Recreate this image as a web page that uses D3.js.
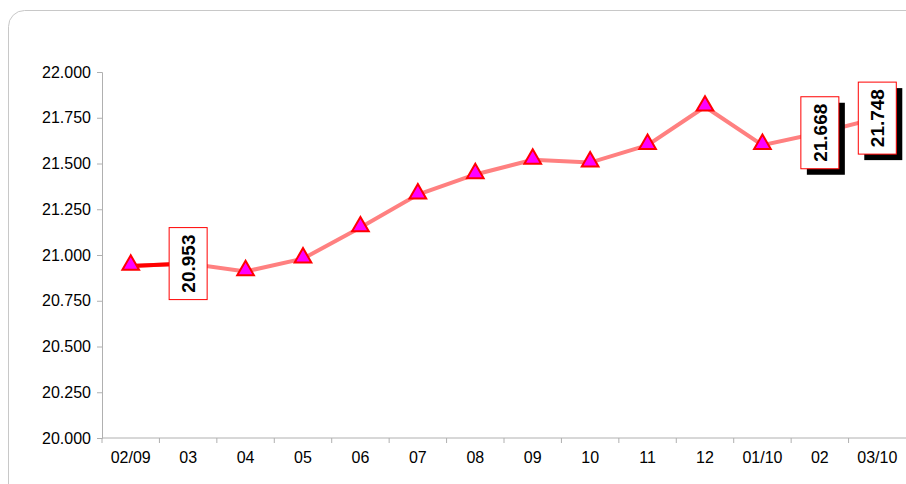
<!DOCTYPE html>
<html lang="en">
<head>
<meta charset="utf-8">
<script src="https://cdn.jsdelivr.net/npm/d3@7"></script>
<style>body{margin:0;background:#fff}</style>
</head>
<body>
<script>
var w = 906, h = 484;
var categories = ["02/09","03","04","05","06","07","08","09","10","11","12","01/10","02","03/10"];
var values = [20.94, 20.953, 20.91, 20.98, 21.15, 21.33, 21.44, 21.52, 21.505, 21.60, 21.81, 21.60, 21.668, 21.748];
var labelIdx = [1, 12, 13];
var markerIdx = [0,1,2,3,4,5,6,7,8,9,10,11];
var yTicks = [20, 20.25, 20.5, 20.75, 21, 21.25, 21.5, 21.75, 22];

var svg = d3.select("body").append("svg").attr("width", w).attr("height", h);

svg.append("rect").attr("x", 8.5).attr("y", 10.5).attr("width", 940).attr("height", 520)
   .attr("rx", 16).attr("fill", "#fff").attr("stroke", "#c8c8c8");

var x = d3.scaleBand().domain(categories).range([102, 906]);
var y = d3.scaleLinear().domain([20, 22]).range([438, 72]);

var yAxis = svg.append("g").attr("transform", "translate(102,0)")
   .call(d3.axisLeft(y).tickValues(yTicks).tickSize(5).tickPadding(6).tickFormat(d3.format(".3f")));
var xAxis = svg.append("g").attr("transform", "translate(0,438)")
   .call(d3.axisBottom(x).tickSize(0).tickPadding(14));
[yAxis, xAxis].forEach(function(g) {
  g.selectAll("path,line").attr("stroke", "#b0b0b0");
  g.selectAll("text").attr("font-family", "Liberation Sans, Arial, sans-serif")
   .attr("font-size", "16px").attr("fill", "#000");
});
xAxis.select(".domain").attr("d", "M102,0H906");
xAxis.selectAll(".sep").data(categories).enter().append("line")
   .attr("x1", function(d){ return x(d); }).attr("x2", function(d){ return x(d); })
   .attr("y1", 0).attr("y2", 5).attr("stroke", "#b0b0b0");

var line = d3.line().x(function(d, i){ return x(categories[i]) + x.bandwidth()/2; })
   .y(function(d){ return y(d); });
svg.append("path").datum(values).attr("d", line).attr("fill", "none")
   .attr("stroke", "#ff8080").attr("stroke-width", 4);
svg.append("path").datum(values.slice(0, 2)).attr("d", line).attr("fill", "none")
   .attr("stroke", "#ff0000").attr("stroke-width", 4);

var tri = d3.symbol().type(d3.symbolTriangle).size(120);
svg.selectAll(".mk").data(markerIdx).enter().append("path")
   .attr("d", tri)
   .attr("transform", function(i){ return "translate(" + (x(categories[i]) + x.bandwidth()/2) + "," + (y(values[i]) - 1) + ")"; })
   .attr("fill", "#ff00ff").attr("stroke", "#ff0000").attr("stroke-width", 2);

var bw = 38, bh = 72;
labelIdx.forEach(function(i) {
  var cx = x(categories[i]) + x.bandwidth()/2, cy = y(values[i]);
  var g = svg.append("g").attr("transform", "translate(" + cx + "," + cy + ")");
  if (i !== 1) {
    g.append("rect").attr("x", -bw/2 + 6).attr("y", -bh/2 + 6).attr("width", bw).attr("height", bh).attr("fill", "#000");
  }
  g.append("rect").attr("x", -bw/2).attr("y", -bh/2).attr("width", bw).attr("height", bh)
   .attr("fill", "#fff").attr("stroke", "#ff0000").attr("stroke-width", 1);
  g.append("text").text(d3.format(".3f")(values[i]))
   .attr("transform", "rotate(-90)").attr("text-anchor", "middle").attr("dy", "0.36em")
   .attr("font-family", "Liberation Sans, Arial, sans-serif").attr("font-weight", "bold")
   .attr("font-size", "19px").attr("fill", "#000");
});
</script>
</body>
</html>
